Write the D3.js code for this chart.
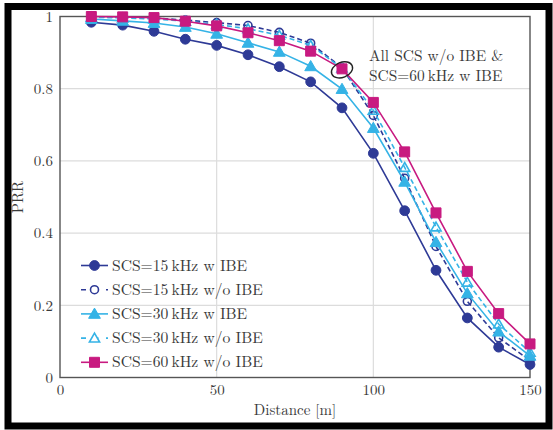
<!DOCTYPE html>
<html>
<head>
<meta charset="utf-8">
<script src="https://cdn.jsdelivr.net/npm/d3@7"></script>
<style>
  html, body { margin: 0; padding: 0; background: #fff; }
  svg { display: block; }
</style>
</head>
<body>
<script>
// Packet reception ratio versus distance
const distances = [10, 20, 30, 40, 50, 60, 70, 80, 90, 100, 110, 120, 130, 140, 150];

const scs15WithIBE    = [0.984, 0.976, 0.959, 0.937, 0.920, 0.894, 0.861, 0.819, 0.747, 0.621, 0.462, 0.297, 0.165, 0.084, 0.036];
const scs15WithoutIBE = [0.999, 0.998, 0.996, 0.990, 0.983, 0.975, 0.956, 0.926, 0.858, 0.726, 0.552, 0.363, 0.211, 0.110, 0.047];
const scs30WithIBE    = [0.993, 0.988, 0.982, 0.971, 0.952, 0.927, 0.902, 0.862, 0.799, 0.691, 0.542, 0.375, 0.233, 0.127, 0.060];
const scs30WithoutIBE = [0.998, 0.996, 0.993, 0.987, 0.978, 0.966, 0.948, 0.920, 0.857, 0.740, 0.582, 0.417, 0.264, 0.148, 0.070];
const scs60WithoutIBE = [1.000, 0.999, 0.997, 0.987, 0.974, 0.955, 0.933, 0.904, 0.855, 0.762, 0.625, 0.456, 0.294, 0.177, 0.093];

const seriesNames = [
  "SCS=15\u2009kHz w IBE",
  "SCS=15\u2009kHz w/o IBE",
  "SCS=30\u2009kHz w IBE",
  "SCS=30\u2009kHz w/o IBE",
  "SCS=60\u2009kHz w/o IBE"
];

const xTicks = [0, 50, 100, 150];
const yTicks = [0, 0.2, 0.4, 0.6, 0.8, 1];
const annotationLines = ["All SCS w/o IBE &", "SCS=60\u2009kHz w IBE"];

const darkBlue = "#2e3a96";
const lightBlue = "#35b3e6";
const magenta = "#c81a80";
const FONT = "'Latin Modern Roman', 'CMU Serif', 'Liberation Serif', 'DejaVu Serif', 'Noto Serif', Tinos, FreeSerif, 'Nimbus Roman', 'Times New Roman', Times, serif";

const series = [
  { name: seriesNames[0], values: scs15WithIBE,    color: darkBlue,  dash: null,  symbol: d3.symbolCircle,   size: 75, open: false },
  { name: seriesNames[1], values: scs15WithoutIBE, color: darkBlue,  dash: "5,3", symbol: d3.symbolCircle,   size: 50, open: true },
  { name: seriesNames[2], values: scs30WithIBE,    color: lightBlue, dash: null,  symbol: d3.symbolTriangle, size: 60, open: false },
  { name: seriesNames[3], values: scs30WithoutIBE, color: lightBlue, dash: "5,3", symbol: d3.symbolTriangle, size: 45, open: true },
  { name: seriesNames[4], values: scs60WithoutIBE, color: magenta,   dash: null,  symbol: d3.symbolSquare,   size: 100, open: false }
];

const W = 553, H = 430;
const plot = { left: 60, right: 530, top: 16.5, bottom: 377.5 };

const svg = d3.select("body").append("svg").attr("width", W).attr("height", H)
  .style("font-family", FONT);

const x = d3.scaleLinear().domain([0, 150]).range([plot.left, plot.right]);
const y = d3.scaleLinear().domain([0, 1]).range([plot.bottom, plot.top]);

function label(sel, size) {
  return sel.attr("font-family", FONT).style("font-family", FONT)
    .style("font-size", size + "px").attr("fill", "#3a3a3a");
}

// grid
const grid = svg.append("g");
grid.selectAll("line.gx").data(xTicks.slice(1, -1)).join("line")
  .attr("x1", d => x(d)).attr("x2", d => x(d))
  .attr("y1", plot.top).attr("y2", plot.bottom)
  .attr("stroke", "#dcdcdc").attr("stroke-width", 1.2);
grid.selectAll("line.gy").data(yTicks.slice(1, -1)).join("line")
  .attr("x1", plot.left).attr("x2", plot.right)
  .attr("y1", d => y(d)).attr("y2", d => y(d))
  .attr("stroke", "#dcdcdc").attr("stroke-width", 1.2);

// axes (labels only; the frame is drawn separately)
const xAxis = svg.append("g")
  .attr("transform", `translate(0,${plot.bottom})`)
  .call(d3.axisBottom(x).tickValues(xTicks).tickSize(0).tickPadding(7).tickFormat(d3.format("d")));
const yAxis = svg.append("g")
  .attr("transform", `translate(${plot.left},0)`)
  .call(d3.axisLeft(y).tickValues(yTicks).tickSize(0).tickPadding(7).tickFormat(d => d === 0 || d === 1 ? String(d) : d.toFixed(1)));
[xAxis, yAxis].forEach(a => {
  a.attr("font-family", FONT);
  a.select(".domain").remove();
  label(a.selectAll("text"), 15);
});

// plot box
svg.append("rect")
  .attr("x", plot.left).attr("y", plot.top)
  .attr("width", plot.right - plot.left).attr("height", plot.bottom - plot.top)
  .attr("fill", "none").attr("stroke", "#555").attr("stroke-width", 1.4);

// series
const line = d3.line().x((d, i) => x(distances[i])).y(d => y(d));
const order = [1, 3, 0, 2, 4];
order.forEach(k => {
  const s = series[k];
  const g = svg.append("g");
  g.append("path").attr("d", line(s.values))
    .attr("fill", "none").attr("stroke", s.color).attr("stroke-width", 1.6)
    .attr("stroke-dasharray", s.dash);
  const sym = d3.symbol().type(s.symbol).size(s.size);
  g.selectAll("path.m").data(s.values).join("path")
    .attr("class", "m")
    .attr("d", sym)
    .attr("transform", (d, i) => `translate(${x(distances[i])},${y(d) + (s.symbol === d3.symbolTriangle ? 1 : 0)})`)
    .attr("fill", s.open ? "none" : s.color)
    .attr("stroke", s.color).attr("stroke-width", s.open ? 1.6 : 1);
});

// legend
const legend = svg.append("g");
const legX0 = 81, legX1 = 108, legY0 = 265.5, legDy = 24.2;
series.forEach((s, i) => {
  const ly = legY0 + i * legDy;
  legend.append("line")
    .attr("x1", legX0).attr("x2", legX1).attr("y1", ly).attr("y2", ly)
    .attr("stroke", s.color).attr("stroke-width", 1.6)
    .attr("stroke-dasharray", s.dash ? "5,7.5" : null);
  legend.append("path")
    .attr("d", d3.symbol().type(s.symbol).size(s.size)())
    .attr("transform", `translate(${(legX0 + legX1) / 2},${ly + (s.symbol === d3.symbolTriangle ? 1 : 0)})`)
    .attr("fill", s.open ? "#fff" : s.color)
    .attr("stroke", s.color).attr("stroke-width", s.open ? 1.6 : 1);
  label(legend.append("text"), 15.6)
    .attr("x", 112).attr("y", ly + 5)
    .text(s.name);
});

// annotation
const ann = svg.append("g");
ann.append("ellipse")
  .attr("cx", x(90)).attr("cy", y(0.855) + 1)
  .attr("rx", 11).attr("ry", 7.5)
  .attr("transform", `rotate(-22,${x(90)},${y(0.855) + 1})`)
  .attr("fill", "none").attr("stroke", "#222").attr("stroke-width", 1.4);
annotationLines.forEach((t, i) => {
  label(ann.append("text"), 15.4).attr("x", 369).attr("y", 60.5 + i * 20).text(t);
});

// axis titles
label(svg.append("text"), 15)
  .attr("x", (plot.left + plot.right) / 2).attr("y", 415)
  .attr("text-anchor", "middle")
  .text("Distance [m]");
label(svg.append("text"), 15)
  .attr("transform", "translate(23,197) rotate(-90)")
  .attr("text-anchor", "middle")
  .text("PRR");

// outer frame
svg.append("rect")
  .attr("x", 8).attr("y", 6.5).attr("width", 541).attr("height", 419.5)
  .attr("fill", "none").attr("stroke", "#000").attr("stroke-width", 7);
</script>
</body>
</html>
